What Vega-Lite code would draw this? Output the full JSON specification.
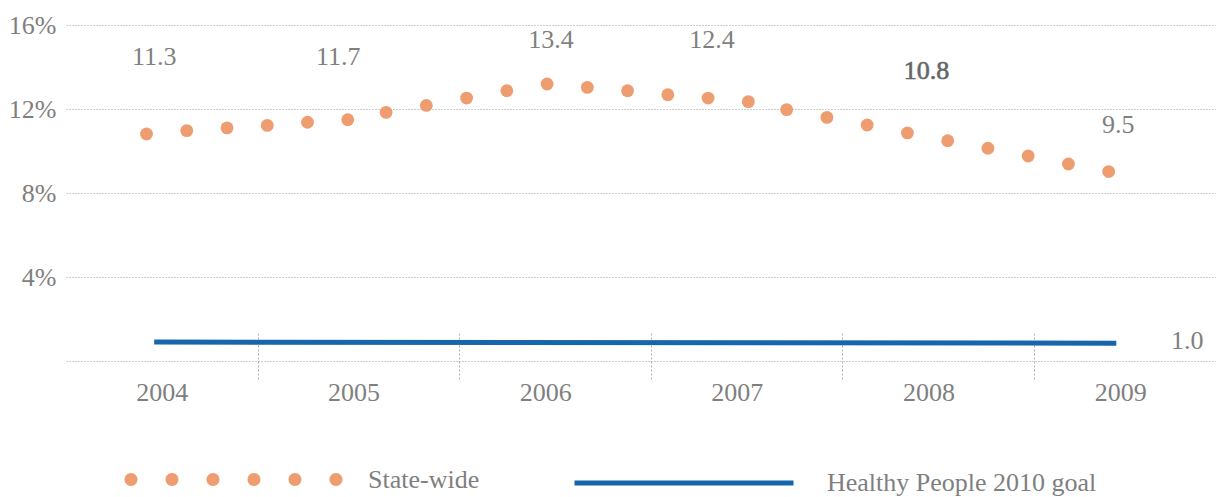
{
  "$schema": "https://vega.github.io/schema/vega-lite/v6.json",
  "width": 1150,
  "height": 336,
  "autosize": {"type": "none"},
  "padding": {"left": 66, "top": 25, "right": 0, "bottom": 136},
  "background": "white",
  "config": {
    "view": {"stroke": null},
    "font": "Liberation Serif",
    "axis": {"labelFont": "Liberation Serif", "labelColor": "#7f7f7f", "labelFontSize": 26, "title": null},
    "legend": {"labelFont": "Liberation Serif", "labelColor": "#7f7f7f", "labelFontSize": 26, "labelLimit": 0}
  },
  "resolve": {"axis": {"x": "independent"}},
  "encoding": {
    "y": {"field": "v", "type": "quantitative",
      "scale": {"domain": [0, 16], "nice": false, "zero": true},
      "axis": {"values": [0, 4, 8, 12, 16], "labelExpr": "datum.value == 0 ? '' : datum.label + '%'", "ticks": false, "tickSize": 0, "domain": false, "grid": true, "gridDash": [1, 2], "gridColor": "#999999", "gridWidth": 1, "labelPadding": 10}}
  },
  "layer": [
    {
      "data": {"values": [
        {"t": 2003.92, "v": 10.81, "series": "State-wide"},
        {"t": 2004.13, "v": 10.97, "series": "State-wide"},
        {"t": 2004.34, "v": 11.10, "series": "State-wide"},
        {"t": 2004.55, "v": 11.22, "series": "State-wide"},
        {"t": 2004.76, "v": 11.37, "series": "State-wide"},
        {"t": 2004.97, "v": 11.49, "series": "State-wide"},
        {"t": 2005.17, "v": 11.84, "series": "State-wide"},
        {"t": 2005.38, "v": 12.17, "series": "State-wide"},
        {"t": 2005.59, "v": 12.52, "series": "State-wide"},
        {"t": 2005.80, "v": 12.87, "series": "State-wide"},
        {"t": 2006.01, "v": 13.19, "series": "State-wide"},
        {"t": 2006.22, "v": 13.03, "series": "State-wide"},
        {"t": 2006.43, "v": 12.87, "series": "State-wide"},
        {"t": 2006.64, "v": 12.68, "series": "State-wide"},
        {"t": 2006.85, "v": 12.52, "series": "State-wide"},
        {"t": 2007.06, "v": 12.35, "series": "State-wide"},
        {"t": 2007.26, "v": 11.97, "series": "State-wide"},
        {"t": 2007.47, "v": 11.60, "series": "State-wide"},
        {"t": 2007.68, "v": 11.24, "series": "State-wide"},
        {"t": 2007.89, "v": 10.86, "series": "State-wide"},
        {"t": 2008.10, "v": 10.49, "series": "State-wide"},
        {"t": 2008.31, "v": 10.13, "series": "State-wide"},
        {"t": 2008.52, "v": 9.76, "series": "State-wide"},
        {"t": 2008.73, "v": 9.38, "series": "State-wide"},
        {"t": 2008.94, "v": 9.02, "series": "State-wide"}
      ]},
      "mark": {"type": "point", "filled": true, "opacity": 1, "size": 165},
      "encoding": {
        "x": {"field": "t", "type": "quantitative",
          "scale": {"domain": [2003.5, 2009.5], "nice": false, "zero": false},
          "axis": {"orient": "bottom", "values": [2004, 2005, 2006, 2007, 2008, 2009], "format": "d", "ticks": false, "tickSize": 0, "domain": false, "grid": false, "labelPadding": 18}},
        "fill": {"field": "series", "type": "nominal", "scale": {"range": ["#EE9D70"]},
          "legend": {"orient": "none", "legendX": 58, "legendY": 345, "title": null, "padding": 0,
            "symbolType": "M -0.9954 0 a 0.0594 0.0594 0 1 0 0.1188 0 a 0.0594 0.0594 0 1 0 -0.1188 0 Z M -0.621 0 a 0.0594 0.0594 0 1 0 0.1188 0 a 0.0594 0.0594 0 1 0 -0.1188 0 Z M -0.2466 0 a 0.0594 0.0594 0 1 0 0.1188 0 a 0.0594 0.0594 0 1 0 -0.1188 0 Z M 0.1278 0 a 0.0594 0.0594 0 1 0 0.1188 0 a 0.0594 0.0594 0 1 0 -0.1188 0 Z M 0.5022 0 a 0.0594 0.0594 0 1 0 0.1188 0 a 0.0594 0.0594 0 1 0 -0.1188 0 Z M 0.8766 0 a 0.0594 0.0594 0 1 0 0.1188 0 a 0.0594 0.0594 0 1 0 -0.1188 0 Z",
            "symbolSize": 47961, "symbolStrokeWidth": 0, "labelOffset": 25}}
      }
    },
    {
      "data": {"values": [
        {"t": 2003.96, "v": 0.9, "series": "Healthy People 2010 goal"},
        {"t": 2008.98, "v": 0.85, "series": "Healthy People 2010 goal"}
      ]},
      "mark": {"type": "line", "strokeWidth": 5, "strokeCap": "butt"},
      "encoding": {
        "x": {"field": "t", "type": "quantitative",
          "scale": {"domain": [2003.5, 2009.5], "nice": false, "zero": false},
          "axis": {"orient": "bottom", "values": [2004.5, 2005.55, 2006.55, 2007.55, 2008.55], "labels": false, "domain": false, "grid": false, "ticks": true, "tickSize": 48, "tickDash": [2, 2], "tickColor": "#b0b0b0", "tickWidth": 1, "offset": -28}},
        "stroke": {"field": "series", "type": "nominal", "scale": {"range": ["#1566AC"]},
          "legend": {"orient": "none", "legendX": 506, "legendY": 346, "title": null, "padding": 0,
            "symbolType": "stroke", "symbolSize": 47961, "symbolStrokeWidth": 5, "labelOffset": 31}}
      }
    },
    {
      "data": {"name": "notes", "values": [
        {"t": 2003.96, "v": 14.48, "label": "11.3"},
        {"t": 2004.92, "v": 14.48, "label": "11.7"},
        {"t": 2006.03, "v": 15.29, "label": "13.4"},
        {"t": 2006.87, "v": 15.29, "label": "12.4"},
        {"t": 2007.99, "v": 13.81, "label": "10.8"},
        {"t": 2008.99, "v": 11.26, "label": "9.5"},
        {"t": 2009.35, "v": 0.95, "label": "1.0"}
      ]},
      "transform": [{"filter": "datum.label != '10.8'"}],
      "mark": {"type": "text", "font": "Liberation Serif", "fontSize": 26, "color": "#7f7f7f", "align": "center", "baseline": "middle"},
      "encoding": {
        "x": {"field": "t", "type": "quantitative", "scale": {"domain": [2003.5, 2009.5], "nice": false, "zero": false}, "axis": null},
        "text": {"field": "label", "type": "nominal"}
      }
    },
    {
      "data": {"name": "notes"},
      "transform": [{"filter": "datum.label == '10.8'"}],
      "mark": {"type": "text", "font": "Liberation Serif", "fontSize": 26, "color": "#666666", "stroke": "#666666", "strokeWidth": 0.6, "align": "center", "baseline": "middle"},
      "encoding": {
        "x": {"field": "t", "type": "quantitative", "scale": {"domain": [2003.5, 2009.5], "nice": false, "zero": false}, "axis": null},
        "text": {"field": "label", "type": "nominal"}
      }
    }
  ]
}
